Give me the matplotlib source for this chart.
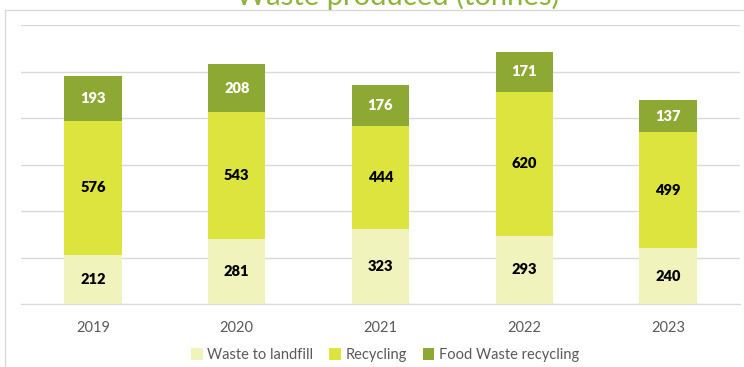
import matplotlib.pyplot as plt
import numpy as np
from matplotlib.patches import Rectangle

years = ["2019", "2020", "2021", "2022", "2023"]
landfill = [212, 281, 323, 293, 240]
recycling = [576, 543, 444, 620, 499]
food_waste = [193, 208, 176, 171, 137]

series = [
    ("Waste to landfill", landfill, "#f0f4bc", "black"),
    ("Recycling", recycling, "#dde43d", "black"),
    ("Food Waste recycling", food_waste, "#8ea834", "white"),
]

plt.rcParams['font.family'] = ['Lato', 'DejaVu Sans']

W, H = 744, 367
fig = plt.figure(figsize=(W / 100, H / 100), dpi=100)

# outer chart frame, running off the right and bottom edges
fig.patches.append(Rectangle((5 / W, -0.1), 1.2, 1 - 10 / H + 0.1,
                             transform=fig.transFigure, fill=False,
                             edgecolor="#d9d9d9", lw=1.0, zorder=0))

ax = fig.add_axes([21 / W, 1 - 304 / H, (740 - 21) / W, (304 - 25) / H])
x = np.arange(len(years))
bottom = np.zeros(len(years))
for name, vals, col, txtcol in series:
    vals = np.array(vals)
    ax.bar(x, vals, 0.4, bottom=bottom, color=col, label=name, zorder=2)
    for xi, b, v in zip(x, bottom, vals):
        ax.text(xi, b + v / 2, str(v), ha="center", va="center",
                fontsize=10.5, fontweight="heavy", color=txtcol, zorder=3)
    bottom += vals

ax.set_xlim(-0.5, len(years) - 0.5)
ax.set_ylim(0, 1200)
ax.set_yticks(np.arange(0, 1201, 200))
ax.yaxis.grid(True, color="#d9d9d9", lw=1.0, zorder=0)
ax.set_yticklabels([])
ax.tick_params(axis="y", length=0)
ax.set_xticks(x)
ax.set_xticklabels(years, fontsize=10.5, color="#595959")
ax.tick_params(axis="x", length=0, pad=12)
for s in ["top", "right", "left"]:
    ax.spines[s].set_visible(False)
ax.spines["bottom"].set_color("#d9d9d9")

# title sits mostly above the top edge of the image
fig.text(398 / W, 1 - 5 / H, "Waste produced (tonnes)", ha="center", va="baseline",
         fontsize=21, color="#8db33a")

fig.legend(loc="center", bbox_to_anchor=(385 / W, 1 - 355 / H), ncol=3, frameon=False,
           fontsize=10.5, handlelength=0.8, handleheight=0.8, handletextpad=0.3,
           columnspacing=1.1, labelcolor="#595959")

fig.savefig("out.png", dpi=100)
